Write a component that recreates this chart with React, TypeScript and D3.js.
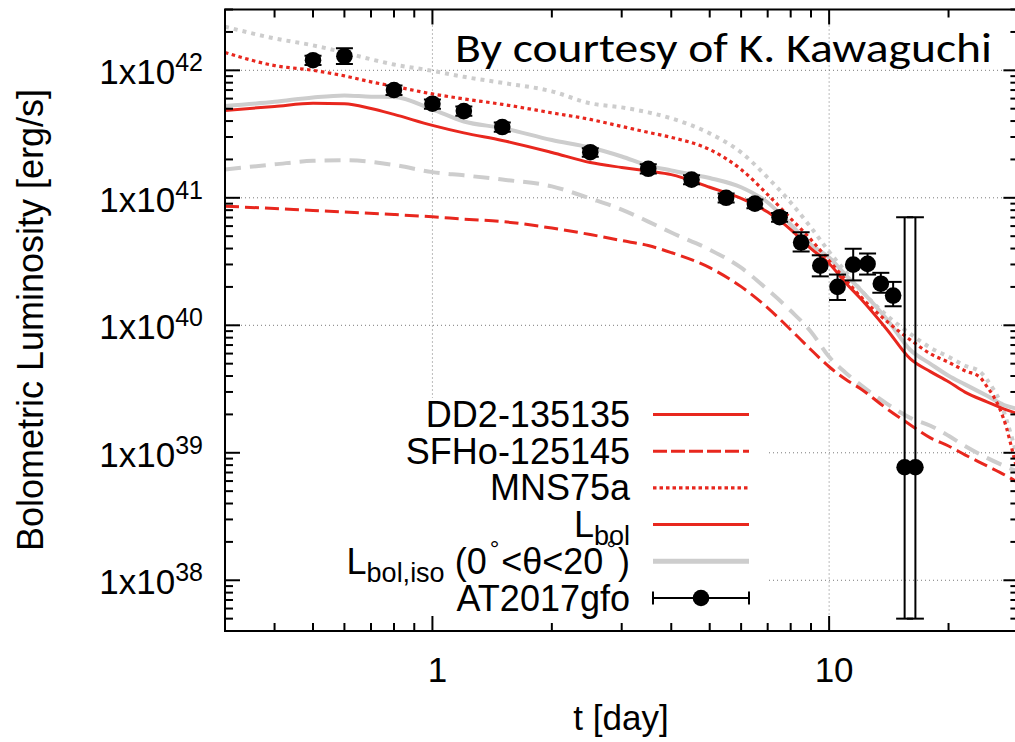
import React from "react";
import * as d3 from "d3";

// model light curves (t in days, L in erg/s)
const tDD2 = [0.3, 0.4, 0.5, 0.6, 0.7, 0.8, 1, 1.2, 1.5, 2, 2.5, 3, 3.5, 4, 5, 6, 7, 8, 9, 10, 11, 12, 14, 16, 18, 20, 22, 25, 28, 30];
const lbolDD2 = [4.85e41, 5.21e41, 5.51e41, 5.47e41, 5.02e41, 4.51e41, 3.7e41, 3.23e41, 2.82e41, 2.27e41, 1.89e41, 1.73e41, 1.62e41, 1.52e41, 1.21e41, 9.89e40, 7.73e40, 5.64e40, 4.0e40, 3.05e40, 2.16e40, 1.62e40, 9.23e39, 5.47e39, 4.33e39, 3.61e39, 2.99e39, 2.51e39, 2.17e39, 2.02e39];
const isoDD2 = [5.25e41, 5.66e41, 6.13e41, 6.36e41, 6.21e41, 6.19e41, 4.94e41, 3.97e41, 3.53e41, 2.84e41, 2.48e41, 2.11e41, 1.79e41, 1.64e41, 1.43e41, 1.21e41, 9.19e40, 6.17e40, 4.29e40, 3.4e40, 2.49e40, 1.9e40, 1.11e40, 6.43e39, 4.99e39, 4.02e39, 3.44e39, 2.8e39, 2.33e39, 2.21e39];

const tSFHo = [0.3, 0.4, 0.5, 0.6, 0.8, 1, 1.2, 1.5, 2, 2.5, 3, 3.5, 4, 5, 6, 7, 8, 9, 10, 11, 12, 14, 16, 18, 20, 22, 25, 28, 30];
const lbolSFHo = [8.59e40, 8.24e40, 7.95e40, 7.73e40, 7.39e40, 7.09e40, 6.81e40, 6.51e40, 5.79e40, 5.15e40, 4.62e40, 4.22e40, 3.72e40, 2.83e40, 2.01e40, 1.37e40, 9.23e39, 6.43e39, 4.73e39, 3.77e39, 3.18e39, 2.21e39, 1.66e39, 1.31e39, 1.13e39, 9.63e38, 7.89e38, 6.59e38, 5.81e38];
const isoSFHo = [1.67e41, 1.83e41, 1.95e41, 1.97e41, 1.81e41, 1.59e41, 1.5e41, 1.39e41, 1.23e41, 9.87e40, 8.09e40, 6.51e40, 5.34e40, 3.92e40, 2.83e40, 1.9e40, 1.3e40, 8.91e39, 5.66e39, 4.25e39, 3.41e39, 2.42e39, 1.88e39, 1.63e39, 1.36e39, 1.13e39, 9.12e38, 7.74e38, 7.08e38];

const tMNS = [0.3, 0.4, 0.5, 0.6, 0.7, 0.8, 1, 1.2, 1.5, 2, 2.5, 3, 3.5, 4, 5, 6, 7, 8, 9, 10, 11, 12, 14, 16, 18, 20, 22, 24, 25, 26, 27, 28, 29, 30];
const lbolMNS = [1.38e42, 1.09e42, 1.0e42, 9.05e41, 8.12e41, 7.49e41, 6.53e41, 5.97e41, 5.41e41, 4.64e41, 4.12e41, 3.63e41, 3.26e41, 2.98e41, 2.39e41, 1.67e41, 1.06e41, 6.88e40, 4.7e40, 3.21e40, 2.28e40, 1.68e40, 1.07e40, 7.71e39, 5.98e39, 5.13e39, 4.4e39, 3.91e39, 3.3e39, 2.75e39, 2.17e39, 1.57e39, 1.02e39, 6.7e38];
const isoMNS = [2.2e42, 1.78e42, 1.57e42, 1.38e42, 1.22e42, 1.11e42, 9.91e41, 8.89e41, 7.98e41, 6.84e41, 5.51e41, 5.12e41, 4.68e41, 4.2e41, 3.2e41, 2.27e41, 1.44e41, 9.19e40, 5.85e40, 3.78e40, 2.64e40, 1.9e40, 1.19e40, 8.59e39, 6.67e39, 5.66e39, 4.82e39, 4.33e39, 3.74e39, 3.12e39, 2.51e39, 1.81e39, 1.26e39, 8.79e38];

// AT2017gfo
const obsT = [0.5, 0.6, 0.8, 1, 1.2, 1.5, 2.5, 3.5, 4.5, 5.5, 6.5, 7.5, 8.5, 9.5, 10.5, 11.5, 12.5, 13.5, 14.5, 15.5, 16.5];
const obsL = [1.2e42, 1.29e42, 7.0e41, 5.47e41, 4.79e41, 3.59e41, 2.28e41, 1.69e41, 1.39e41, 1.0e41, 9.0e40, 7.04e40, 4.46e40, 2.94e40, 2.0e40, 2.99e40, 3.03e40, 2.12e40, 1.71e40, 7.7e38, 7.7e38];
const obsLo = [1.1e42, 1.12e42, 6.4e41, 5.0e41, 4.4e41, 3.3e41, 2.1e41, 1.55e41, 1.28e41, 9.2e40, 8.3e40, 6.5e40, 3.8e40, 2.42e40, 1.58e40, 2.25e40, 2.5e40, 1.8e40, 1.41e40, 5.0e37, 5.0e37];
const obsHi = [1.3e42, 1.49e42, 7.6e41, 5.9e41, 5.2e41, 3.9e41, 2.45e41, 1.83e41, 1.5e41, 1.08e41, 9.7e40, 7.6e40, 5.37e40, 3.54e40, 2.5e40, 3.98e40, 3.65e40, 2.58e40, 2.19e40, 7.05e40, 7.05e40];

const xTickLabels = [1, 10];
const yExponents = [38, 39, 40, 41, 42];

const RED = "#e8271e";
const GRAY = "#cdcdcd";
const FONT = "'Liberation Sans', Arial, Helvetica, sans-serif";

const zip = (t: number[], v: number[]) => t.map((d, i) => [d, v[i]] as [number, number]);

export default function App() {
  const x = d3.scaleLog().domain([0.3, 30]).range([225, 1018.4]);
  const y = d3.scaleLog().domain([4e37, 3e42]).range([631, 9.5]);
  const left = 225, right = 1018.4, top = 9.5, bottom = 631;

  const line = d3
    .line<[number, number]>()
    .x(d => x(d[0]))
    .y(d => y(d[1]))
    .curve(d3.curveMonotoneX);

  const isMajor = (v: number) => Math.abs(Math.log10(v) - Math.round(Math.log10(v))) < 1e-6;

  const curves = [
    { data: zip(tSFHo, isoSFHo), color: GRAY, width: 4, dash: "16,9" },
    { data: zip(tMNS, isoMNS), color: GRAY, width: 4, dash: "4,5" },
    { data: zip(tDD2, isoDD2), color: GRAY, width: 4, dash: null },
    { data: zip(tSFHo, lbolSFHo), color: RED, width: 3, dash: "14,6" },
    { data: zip(tMNS, lbolMNS), color: RED, width: 3.2, dash: "3.5,3.5" },
    { data: zip(tDD2, lbolDD2), color: RED, width: 3, dash: null },
  ];

  const legendRows = [
    { key: "DD2-135135", color: RED, width: 3, dash: null },
    { key: "SFHo-125145", color: RED, width: 3, dash: "14,4" },
    { key: "MNS75a", color: RED, width: 3.2, dash: "3.5,3" },
    { key: "Lbol", color: RED, width: 3, dash: null },
    { key: "Lboliso", color: GRAY, width: 5, dash: null },
    { key: "AT2017gfo", color: "#000", width: 2, dash: null },
  ];
  const rowY = (i: number) => 414.5 + i * 36.7;
  const legX0 = 653, legX1 = 749, legTextX = 630;

  return (
    <svg
      width={1015}
      height={742}
      style={{ position: "absolute", left: 0, top: 0, background: "#fff" }}
      fontFamily={FONT}
    >
      <defs>
        <clipPath id="plot">
          <rect x={left} y={top} width={right - left} height={bottom - top} />
        </clipPath>
      </defs>
      <rect x={0} y={0} width={1015} height={742} fill="#fff" />

      {/* grid */}
      <g stroke="#7a7a7a" strokeWidth={1} strokeDasharray="1,3">
        {xTickLabels.map(t => (
          <line key={t} x1={x(t)} x2={x(t)} y1={top} y2={bottom} />
        ))}
        {yExponents.map(e => (
          <line key={e} x1={left} x2={right} y1={y(Math.pow(10, e))} y2={y(Math.pow(10, e))} />
        ))}
      </g>

      {/* opaque key box */}
      <rect x={left + 1} y={398} width={767 - left} height={bottom - 398} fill="#fff" />

      <text x={455} y={62} fontFamily="Carlito, Lato, 'Open Sans', sans-serif" fontSize={40} textLength={537} lengthAdjust="spacingAndGlyphs">
        By courtesy of K. Kawaguchi
      </text>

      {/* model curves */}
      <g clipPath="url(#plot)" fill="none">
        {curves.map((c, i) => (
          <path key={i} d={line(c.data) || ""} stroke={c.color} strokeWidth={c.width} strokeDasharray={c.dash || undefined} />
        ))}
      </g>

      {/* observations */}
      <g clipPath="url(#plot)" stroke="#000" strokeWidth={2}>
        {obsT.map((t, i) => (
          <g key={i}>
            <line x1={x(t)} x2={x(t)} y1={y(obsLo[i])} y2={y(obsHi[i])} />
            <line x1={x(t) - 8.5} x2={x(t) + 8.5} y1={y(obsLo[i])} y2={y(obsLo[i])} />
            <line x1={x(t) - 8.5} x2={x(t) + 8.5} y1={y(obsHi[i])} y2={y(obsHi[i])} />
          </g>
        ))}
        {obsT.map((t, i) => (
          <circle key={"c" + i} cx={x(t)} cy={y(obsL[i])} r={8.3} fill="#000" stroke="none" />
        ))}
      </g>

      {/* legend */}
      <g fontSize={36} textAnchor="end">
        {legendRows.map((r, i) => {
          const ry = rowY(i);
          let label: React.ReactNode = r.key;
          if (r.key === "Lbol") {
            label = (
              <>
                L<tspan fontSize={27} dy={8}>bol</tspan>
              </>
            );
          } else if (r.key === "Lboliso") {
            label = (
              <>
                L<tspan fontSize={27} dy={8}>bol,iso</tspan>
                <tspan dy={-8}> (0</tspan>
                <tspan fontSize={24} dx={3} dy={-17}>°</tspan>
                <tspan dx={2} dy={17}>&lt;θ&lt;20</tspan>
                <tspan fontSize={24} dx={3} dy={-17}>°</tspan>
                <tspan dx={2} dy={17}>)</tspan>
              </>
            );
          }
          return (
            <g key={r.key}>
              <text x={legTextX} y={ry + 12.5}>{label}</text>
              {r.key === "AT2017gfo" ? (
                <g stroke="#000" strokeWidth={2}>
                  <line x1={legX0} x2={legX1} y1={ry} y2={ry} />
                  <line x1={legX0} x2={legX0} y1={ry - 6.5} y2={ry + 6.5} />
                  <line x1={legX1} x2={legX1} y1={ry - 6.5} y2={ry + 6.5} />
                  <circle cx={(legX0 + legX1) / 2} cy={ry} r={8.3} fill="#000" stroke="none" />
                </g>
              ) : (
                <line x1={legX0} x2={legX1} y1={ry} y2={ry} stroke={r.color} strokeWidth={r.width} strokeDasharray={r.dash || undefined} />
              )}
            </g>
          );
        })}
      </g>

      {/* axes frame and ticks */}
      <g stroke="#000" strokeWidth={2}>
        {x.ticks().map(t => {
          const len = isMajor(t) ? 15 : 8;
          return (
            <g key={"xt" + t}>
              <line x1={x(t)} x2={x(t)} y1={bottom} y2={bottom - len} />
              <line x1={x(t)} x2={x(t)} y1={top} y2={top + len} />
            </g>
          );
        })}
        {y.ticks().map(v => {
          const len = isMajor(v) ? 15 : 8;
          return (
            <g key={"yt" + v}>
              <line x1={left} x2={left + len} y1={y(v)} y2={y(v)} />
              <line x1={right} x2={right - len} y1={y(v)} y2={y(v)} />
            </g>
          );
        })}
        <rect x={left} y={top} width={right - left} height={bottom - top} fill="none" />
      </g>

      {/* tick labels */}
      <g fontSize={35} textAnchor="middle">
        {xTickLabels.map(t => (
          <text key={t} x={x(t) + 5} y={682}>{t}</text>
        ))}
      </g>
      <g fontSize={35} textAnchor="end">
        {yExponents.map(e => (
          <text key={e} x={203} y={y(Math.pow(10, e)) + 14}>
            1x10<tspan fontSize={25} dy={-13}>{e}</tspan>
          </text>
        ))}
      </g>

      {/* axis titles */}
      <text x={621} y={730} fontSize={35} textAnchor="middle">t [day]</text>
      <text transform="translate(43,320) rotate(-90)" fontSize={36} textAnchor="middle">
        Bolometric Luminosity [erg/s]
      </text>
    </svg>
  );
}
